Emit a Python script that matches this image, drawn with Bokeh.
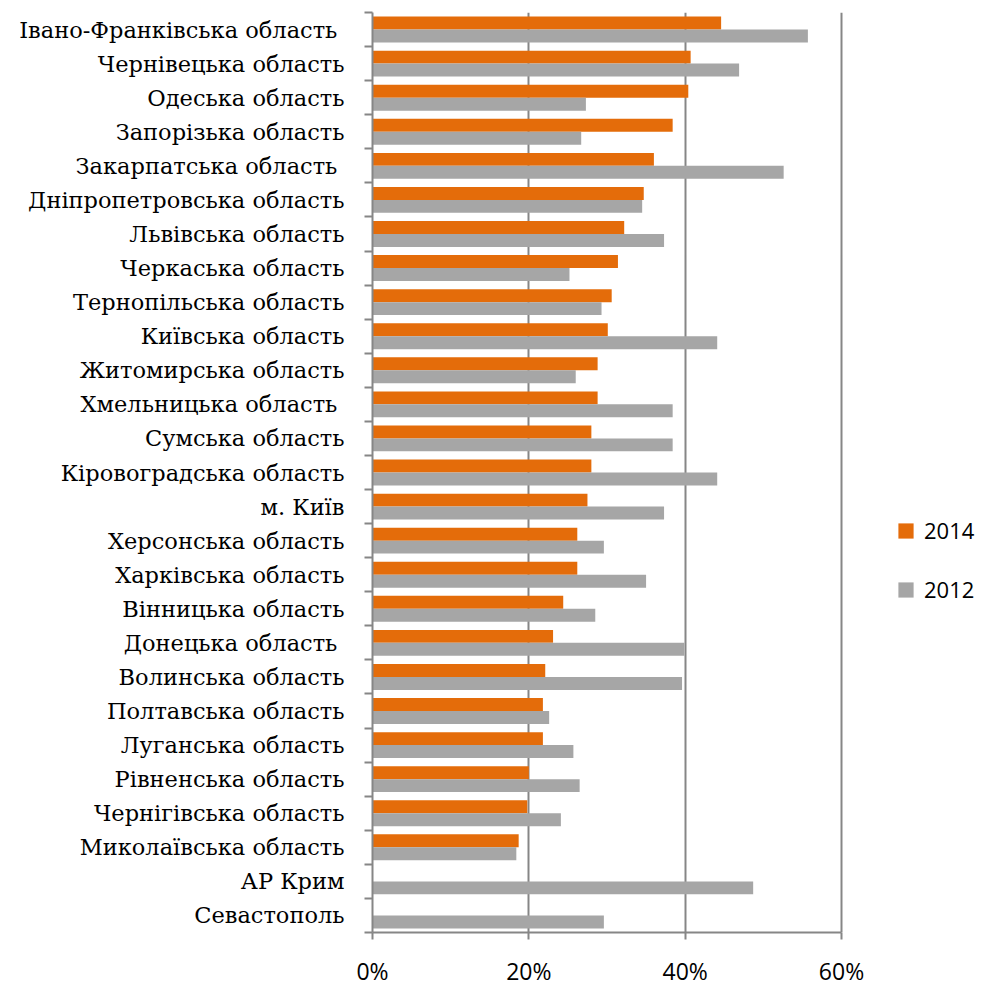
from bokeh.plotting import figure
from bokeh.models import Range1d, FixedTicker, PrintfTickFormatter, Legend, LegendItem
from bokeh.embed import file_html
from bokeh.resources import INLINE

regions = ["Івано-Франківська область ", "Чернівецька область", "Одеська область",
           "Запорізька область", "Закарпатська область ", "Дніпропетровська область",
           "Львівська область", "Черкаська область", "Тернопільська область",
           "Київська область", "Житомирська область", "Хмельницька область ",
           "Сумська область", "Кіровоградська область", "м. Київ",
           "Херсонська область", "Харківська область", "Вінницька область",
           "Донецька область ", "Волинська область", "Полтавська область",
           "Луганська область", "Рівненська область", "Чернігівська область",
           "Миколаївська область", "АР Крим", "Севастополь"]

v2014 = [44.6, 40.7, 40.4, 38.4, 36.0, 34.7, 32.2, 31.4, 30.6, 30.1, 28.8, 28.8,
         28.0, 28.0, 27.5, 26.2, 26.2, 24.4, 23.1, 22.1, 21.8, 21.8, 20.0, 19.8,
         18.7, None, None]
v2012 = [55.7, 46.9, 27.3, 26.7, 52.6, 34.5, 37.3, 25.2, 29.3, 44.1, 26.0, 38.4,
         38.4, 44.1, 37.3, 29.6, 35.0, 28.5, 39.9, 39.6, 22.6, 25.7, 26.5, 24.1,
         18.4, 48.7, 29.6]

x_ticks = [0, 20, 40, 60]

ORANGE = "#E46C0A"
GRAY = "#A6A6A6"
AXIS = "#868686"

n = len(regions)

# plot area: 0..60% spans 469px; the frame continues to the right to hold the legend
PLOT_W = 469
FRAME_W = 605
x_end = x_ticks[-1] * FRAME_W / PLOT_W

p = figure(frame_width=FRAME_W, frame_height=920, output_backend="svg", toolbar_location=None,
           x_range=Range1d(0, x_end), y_range=Range1d(n - 0.5, -0.5),
           min_border_left=372, min_border_right=0, min_border_top=12,
           min_border_bottom=52)
p.outline_line_color = None
p.background_fill_color = "white"
p.border_fill_color = "white"

bar_h = 0.38
y14 = [i - 0.19 for i, v in enumerate(v2014) if v is not None]
r14 = [v for v in v2014 if v is not None]
y12 = [i + 0.19 for i in range(n)]

b14 = p.hbar(y=y14, left=0, right=r14, height=bar_h, fill_color=ORANGE, line_color=None)
b12 = p.hbar(y=y12, left=0, right=v2012, height=bar_h, fill_color=GRAY, line_color=None)

# x axis
xa = p.xaxis[0]
xa.bounds = (x_ticks[0], x_ticks[-1])
xa.ticker = FixedTicker(ticks=x_ticks)
xa.formatter = PrintfTickFormatter(format="%d%%")
xa.axis_line_color = AXIS
xa.axis_line_width = 2
xa.major_tick_line_color = AXIS
xa.major_tick_line_width = 2
xa.major_tick_out = 7
xa.major_tick_in = 0
xa.minor_tick_line_color = None
xa.major_label_text_font = "Open Sans"
xa.major_label_text_font_size = "23px"
xa.major_label_text_color = "#000000"
xa.major_label_standoff = 15

# y axis: labels at category centers, ticks at boundaries
ya = p.yaxis[0]
ya.ticker = FixedTicker(ticks=list(range(n)), minor_ticks=[i - 0.5 for i in range(n + 1)])
ya.major_label_overrides = {i: regions[i] for i in range(n)}
ya.axis_line_color = AXIS
ya.axis_line_width = 2
ya.major_tick_line_color = None
ya.major_tick_out = 0
ya.major_tick_in = 0
ya.minor_tick_line_color = AXIS
ya.minor_tick_line_width = 2
ya.minor_tick_out = 8
ya.minor_tick_in = 0
ya.major_label_text_font = "DejaVu Serif"
ya.major_label_text_font_size = "22.5px"
ya.major_label_text_color = "#000000"
ya.major_label_standoff = 20

p.ygrid.grid_line_color = None
p.xgrid.ticker = FixedTicker(ticks=x_ticks)
p.xgrid.bounds = (x_ticks[0], x_ticks[-1])
p.xgrid.grid_line_color = AXIS
p.xgrid.grid_line_width = 2

legend = Legend(items=[LegendItem(label="2014", renderers=[b14]),
                       LegendItem(label="2012", renderers=[b12])],
                location=(524, 328), orientation="vertical",
                glyph_width=19, glyph_height=19, label_height=20,
                label_standoff=9, spacing=29, padding=0, margin=0,
                border_line_color=None, background_fill_alpha=0,
                label_text_font="Open Sans", label_text_font_size="22px",
                label_text_color="#000000")
p.add_layout(legend, "center")

open("out.html", "w").write(file_html(p, INLINE))
